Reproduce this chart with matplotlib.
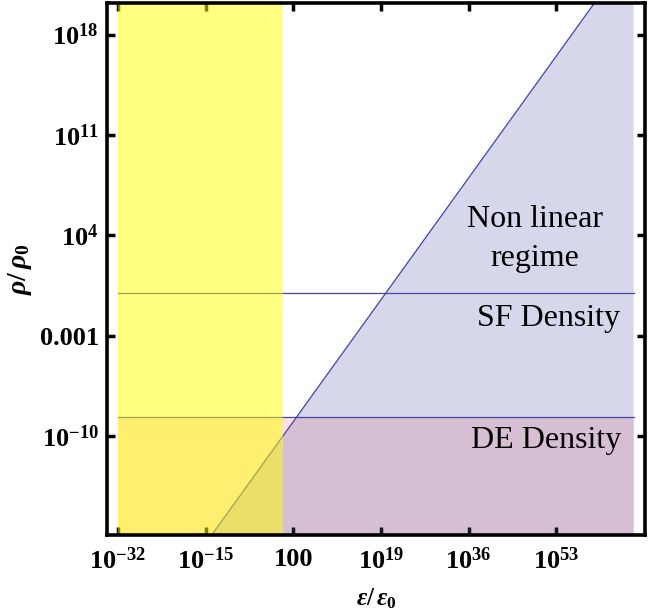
import matplotlib
matplotlib.use("Agg")
import matplotlib.pyplot as plt
import numpy as np

# ---- data ----
x_ticks = [1e-32, 1e-15, 1e2, 1e19, 1e36, 1e53]
x_tick_labels = [r"$10^{-32}$", r"$10^{-15}$", "100", r"$10^{19}$", r"$10^{36}$", r"$10^{53}$"]
y_ticks = [1e-10, 1e-3, 1e4, 1e11, 1e18]
y_tick_labels = [r"$10^{-10}$", "0.001", r"$10^{4}$", r"$10^{11}$", r"$10^{18}$"]

eps_range = [1e-32, 1e68]          # horizontal extent of the curves
yellow_range = [1e-32, 1.0]        # yellow band
sf_density = 1.0                   # SF density line
de_density = 2e-9                  # DE density line
eps_line = [1e-32, 1e68]           # non-linear boundary endpoints
rho_line = [1e-26, 1e24]

x_lim = [10 ** -34.1, 10 ** 70.2]
y_lim = [10 ** -16.9, 10 ** 20.2]

plt.rcParams["mathtext.fontset"] = "custom"
plt.rcParams["mathtext.rm"] = "Liberation Serif:bold"
plt.rcParams["mathtext.bf"] = "Liberation Serif:bold"
plt.rcParams["mathtext.it"] = "Liberation Serif:bold:italic"

fig = plt.figure(figsize=(6.67, 6.14), dpi=100)
ax = fig.add_axes([107 / 667, 1 - 535 / 614, (645 - 107) / 667, (535 - 3) / 614])
ax.set_xscale("log")
ax.set_yscale("log")
ax.set_xlim(x_lim)
ax.set_ylim(y_lim)

floor = 1e-40
line_col = (68 / 255, 68 / 255, 170 / 255)

# DE fill (below DE density)
ax.fill_between(eps_range, [floor, floor], [de_density, de_density],
                color=(1.0, 224 / 255, 224 / 255), lw=0, zorder=1)
# Non linear regime fill (below the diagonal)
ax.fill_between(eps_line, [floor, floor], rho_line,
                color=(85 / 255, 85 / 255, 172 / 255), alpha=0.23, lw=0, zorder=2)

# lines
ax.plot(eps_range, [sf_density, sf_density], color=line_col, lw=0.9, zorder=3)
ax.plot(eps_range, [de_density, de_density], color=line_col, lw=0.9, zorder=3)
ax.plot(eps_line, rho_line, color=line_col, lw=0.9, zorder=3)

# yellow band on top
ax.axvspan(yellow_range[0], yellow_range[1], color=(1.0, 1.0, 0.0), alpha=0.5, lw=0, zorder=4)

# ticks
ax.set_xticks(x_ticks)
ax.set_xticklabels(x_tick_labels)
ax.set_yticks(y_ticks)
ax.set_yticklabels(y_tick_labels)
ax.minorticks_off()
ax.tick_params(direction="in", length=6, width=2.5, top=True, right=True,
               labelsize=19)
ax.tick_params(axis="x", pad=9)
ax.tick_params(axis="y", pad=6)
for lab in ax.get_xticklabels() + ax.get_yticklabels():
    lab.set_fontfamily("Liberation Serif")
    lab.set_fontweight("bold")
for sp in ax.spines.values():
    sp.set_linewidth(2.6)
    sp.set_zorder(10)

ax.set_xlabel(r"$\epsilon/\,\epsilon_0$", fontsize=18, labelpad=9)
ax.set_ylabel(r"$\rho/\,\rho_0$", fontsize=20, labelpad=4)

tf = dict(family="Liberation Serif", fontsize=23, ha="center", va="center", zorder=6)
ax.text(10 ** 48.9, 10 ** 3.75, "Non linear\nregime", linespacing=1.45, **tf)
ax.text(10 ** 51.4, 10 ** -1.8, "SF Density", **tf)
ax.text(10 ** 51.1, 10 ** -10.3, "DE Density", **tf)

fig.savefig("out.png", dpi=100)
